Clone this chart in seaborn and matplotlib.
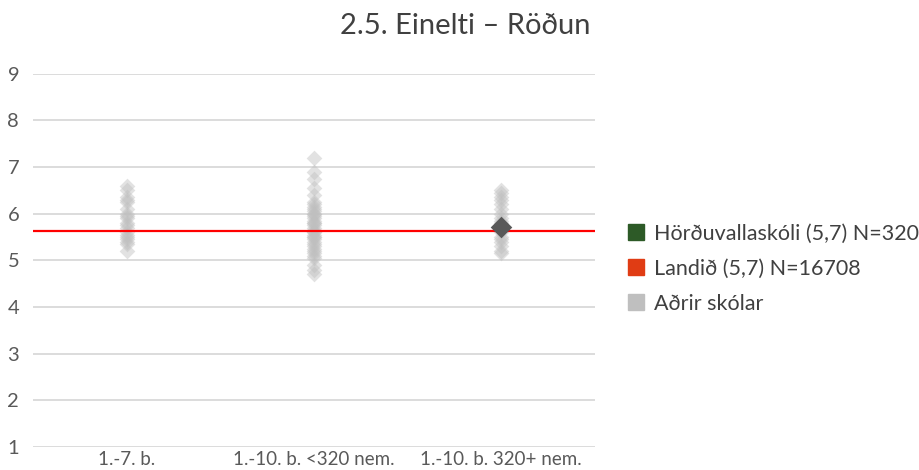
import pandas as pd
import matplotlib
matplotlib.use("Agg")
import matplotlib.pyplot as plt
import seaborn as sns
from matplotlib.lines import Line2D

# categories on the x axis
categories = ["1.-7. b.", "1.-10. b. <320 nem.", "1.-10. b. 320+ nem."]

# other schools
grp_small = [6.6, 6.5, 6.35, 6.3, 6.25, 6.1, 6.0, 5.95, 5.9, 5.8, 5.75, 5.7,
             5.6, 5.55, 5.5, 5.45, 5.4, 5.35, 5.2]
grp_mid = [7.2, 6.9, 6.75, 6.55, 6.4, 6.25, 6.2, 6.15, 6.1, 6.05, 6.0, 6.0,
           5.95, 5.9, 5.85, 5.8, 5.8, 5.75, 5.7, 5.65, 5.6, 5.6, 5.55, 5.5,
           5.5, 5.45, 5.4, 5.35, 5.3, 5.25, 5.2, 5.15, 5.1, 5.05, 4.9, 4.8, 4.7]
grp_big = [6.5, 6.45, 6.35, 6.3, 6.2, 6.1, 6.0, 5.9, 5.85, 5.8, 5.7, 5.65,
           5.6, 5.5, 5.45, 5.4, 5.3, 5.2, 5.15]

# the school itself and the national value
school_cat = "1.-10. b. 320+ nem."
school_val = 5.72
land_val = 5.63

legend_labels = ["Hörðuvallaskóli (5,7) N=320", "Landið (5,7) N=16708", "Aðrir skólar"]

df = pd.DataFrame({
    "flokkur": [categories[0]] * len(grp_small) + [categories[1]] * len(grp_mid)
               + [categories[2]] * len(grp_big),
    "gildi": grp_small + grp_mid + grp_big,
})
school = pd.DataFrame({"flokkur": [school_cat], "gildi": [school_val]})

sns.set_style("white")
plt.rcParams["font.family"] = ["Lato", "DejaVu Sans"]

fig = plt.figure(figsize=(9.19, 4.70), dpi=100)
ax = fig.add_axes([0.036, 0.049, 0.611, 0.794])

for y in range(1, 10):
    ax.axhline(y, color="#d9d9d9", lw=1.3, zorder=0)

sns.stripplot(data=df, x="flokkur", y="gildi", order=categories, jitter=False,
              marker="D", s=8, color="#bfbfbf", alpha=0.45, linewidth=0, ax=ax, zorder=2)
ax.axhline(land_val, color="#ff0000", lw=1.6, zorder=3)
sns.stripplot(data=school, x="flokkur", y="gildi", order=categories, jitter=False,
              marker="D", s=11, color="#595959", linewidth=0, ax=ax, zorder=4)

ax.set_ylim(1, 9)
ax.set_xlim(-0.5, 2.5)
ax.set_yticks(range(1, 10))
ax.set_xlabel("")
ax.set_ylabel("")
for s in ax.spines.values():
    s.set_visible(False)
ax.tick_params(axis="y", length=0, pad=10, labelsize=14.5, labelcolor="#595959")
ax.tick_params(axis="x", length=0, pad=3, labelsize=13.5, labelcolor="#595959")

fig.text(0.506, 0.945, "2.5. Einelti \u2013 Röðun", fontsize=21, color="#404040",
         ha="center", va="center")

handles = [
    Line2D([], [], marker="s", ls="", color="#2d5a27", markersize=11),
    Line2D([], [], marker="s", ls="", color="#e03c14", markersize=11),
    Line2D([], [], marker="s", ls="", color="#bfbfbf", markersize=11),
]
leg = fig.legend(handles, legend_labels, loc="center left", bbox_to_anchor=(0.68, 0.428),
                 frameon=False, fontsize=15.5, handletextpad=0.35, labelspacing=0.7,
                 handlelength=1.0, labelcolor="#404040", borderaxespad=0, borderpad=0)

fig.savefig("out.png", dpi=100)
